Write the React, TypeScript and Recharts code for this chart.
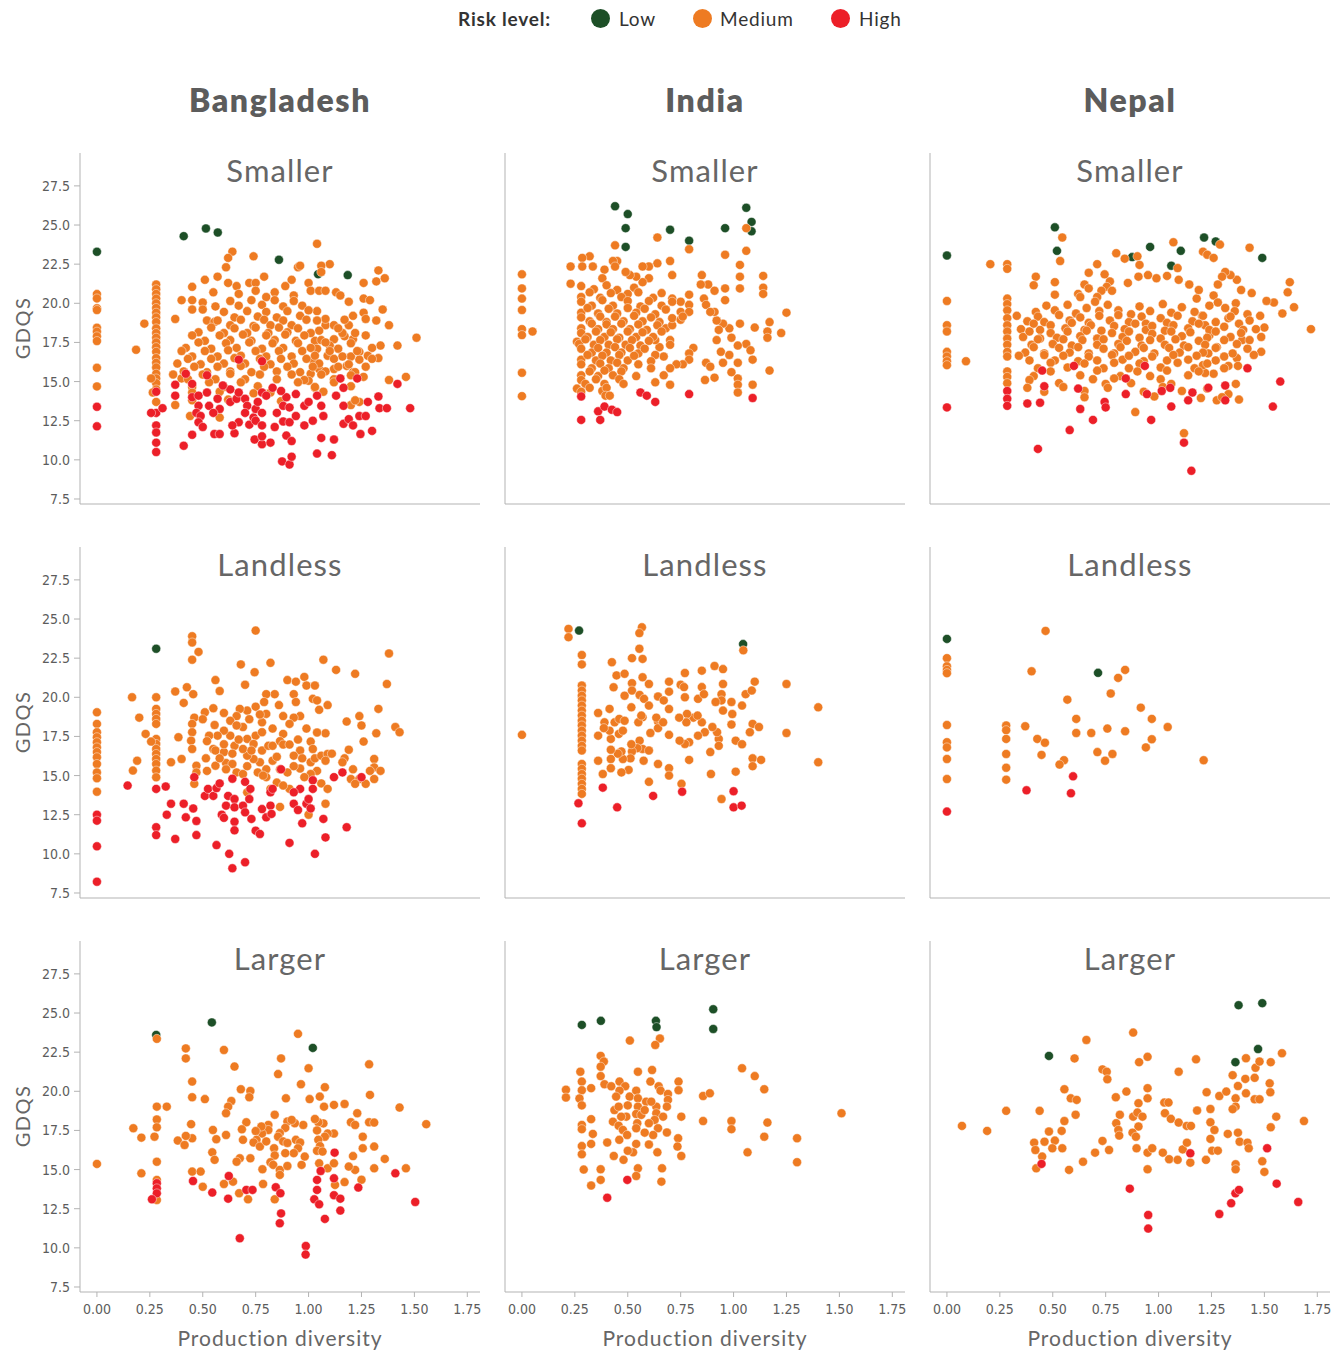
import React from 'react';
import { ScatterChart, Scatter, XAxis, YAxis } from 'recharts';

const countries = ['Bangladesh', 'India', 'Nepal'];
const farmTypes = ['Smaller', 'Landless', 'Larger'];
const riskLevels = ['Low', 'Medium', 'High'];
const xTicks = [0, 0.25, 0.5, 0.75, 1.0, 1.25, 1.5, 1.75];
const yTicks = [7.5, 10, 12.5, 15, 17.5, 20, 22.5, 25, 27.5];

// ---------- Bangladesh / Smaller ----------
const bgdSmallLow = [[0,23.29],[0.41,24.29],[0.515,24.78],[0.571,24.52],[0.86,22.78],[1.045,21.86],[1.185,21.8]];
const bgdSmallMed = [
[0,20.59],[0,20.31],[0,19.68],[0,19.57],[0,18.44],[0,18.19],[0,17.89],[0,17.59],[0,15.88],[0,14.69],
[0.28,21.2],[0.28,20.9],[0.28,20.6],[0.28,20.3],[0.28,20.0],[0.28,19.7],[0.28,19.4],[0.28,19.1],[0.28,18.8],[0.28,18.4],[0.28,18.1],[0.28,17.8],[0.28,17.5],[0.28,17.2],[0.28,16.9],[0.28,16.5],[0.28,16.2],[0.28,15.9],[0.28,15.5],[0.28,15.2],[0.28,14.9],[0.28,14.5],[0.28,13.7],
[0.185,17.03],[0.224,18.7],[0.256,15.2],[0.264,14.3],[0.4,15.2],[0.37,13.5],[0.44,12.8],[0.58,12.7],[1.2,13.5],[1.24,13.7],
[0.64,23.3],[0.62,22.9],[0.61,22.3],[0.74,23.0],[1.04,23.8],[1.1,22.5],[1.06,22.4],[1.06,22.0],[0.95,22.3],[0.96,22.4],[0.92,21.5],[0.79,21.7],[0.57,21.7],[0.51,21.5],[0.55,20.7],[0.45,21.05],[0.4,20.2],[0.45,20.2],[0.45,19.6],[0.37,19.0],[0.5,20.05],[0.5,19.6],[0.52,18.9],[0.555,18.8],[0.62,21.3],[0.66,21.1],[0.72,21.3],[0.75,21.3],[0.75,20.8],[0.67,20.6],[0.8,20.4],[0.84,20.7],[0.89,21.1],[0.93,20.5],[1.0,21.3],[1.01,20.8],[1.05,20.8],[1.08,20.8],[1.13,20.7],[1.15,20.5],[1.19,20.1],[1.26,21.3],[1.32,21.4],[1.33,22.1],[1.36,21.6],[1.26,20.3],[1.29,20.2],[1.35,19.6],[1.38,18.6],[1.42,17.3],[1.51,17.8],[1.46,15.3],[1.38,15.1],[1.33,16.5],[1.34,17.3],[1.32,18.9],[1.26,19.4],[1.27,19.0],[1.21,19.2],[1.19,18.6],[1.17,17.9],[1.16,18.1],[1.12,17.7],[1.21,17.7],[1.24,16.9],[1.24,16.4],[1.2,16.6],[1.18,16.0],[1.26,15.3],[1.2,14.7],[1.21,15.6],[1.15,15.2],[1.12,15.8],[1.09,16.65],[1.1,17.3],[1.08,18.6],[1.08,19.0],[1.04,19.5],[1.04,18.9],[1.05,18.25],[1.03,17.6],[1.04,17.1],[1.02,16.4],[1.05,15.8],[1.01,15.5],[1.0,15.05],[1.03,14.6],
[0.56,19.8],[0.63,20.15],[0.67,19.85],[0.73,20.2],[0.78,19.9],[0.84,20.2],[0.88,19.8],[0.93,20.15],[0.97,19.85],
[0.6,19.45],[0.65,19.1],[0.71,19.5],[0.76,19.15],[0.8,19.45],[0.85,19.1],[0.9,19.5],[0.96,19.2],[1.0,19.55],
[0.57,18.9],[0.63,18.6],[0.68,18.95],[0.74,18.55],[0.79,18.95],[0.82,18.6],[0.88,18.9],[0.92,18.6],[0.99,18.95],[1.12,18.6],[1.17,18.95],
[0.48,18.15],[0.54,18.45],[0.6,18.1],[0.65,18.4],[0.71,18.1],[0.75,18.45],[0.81,18.1],[0.86,18.45],[0.9,18.15],[0.95,18.4],[1.01,18.1],[1.14,18.4],[1.22,18.1],
[0.45,17.95],[0.51,17.6],[0.58,17.95],[0.63,17.65],[0.69,18.0],[0.73,17.6],[0.8,17.95],[0.84,17.65],[0.89,18.0],[0.94,17.6],[0.98,17.95],[1.06,17.65],[1.27,17.95],
[0.42,17.15],[0.48,17.5],[0.54,17.1],[0.61,17.45],[0.66,17.15],[0.72,17.5],[0.78,17.1],[0.83,17.45],[0.88,17.15],[0.95,17.45],[1.01,17.15],[1.08,17.5],[1.14,17.1],[1.2,17.45],[1.3,17.15],
[0.4,16.95],[0.45,16.6],[0.51,16.95],[0.57,16.6],[0.62,17.0],[0.68,16.65],[0.75,16.95],[0.8,16.6],[0.86,16.95],[0.92,16.6],[0.97,16.95],[1.03,16.65],[1.1,16.95],[1.16,16.6],[1.23,16.95],[1.28,16.65],
[0.38,16.15],[0.43,16.45],[0.49,16.1],[0.54,16.45],[0.6,16.15],[0.65,16.5],[0.7,16.15],[0.77,16.45],[0.82,16.1],[0.87,16.45],[0.93,16.15],[0.99,16.45],[1.05,16.15],[1.12,16.45],[1.19,16.1],[1.3,16.45],
[0.41,15.65],[0.46,15.95],[0.52,15.6],[0.57,15.95],[0.63,15.65],[0.68,16.0],[0.73,15.6],[0.79,15.95],[0.85,15.65],[0.9,15.95],[0.96,15.6],[1.02,15.95],[1.08,15.65],[1.14,15.95],[1.22,15.6],[1.27,15.95],
[0.36,15.45],[0.43,15.15],[0.5,15.45],[0.56,15.15],[0.63,15.5],[0.7,15.15],[0.77,15.45],[0.85,15.15],[0.92,15.45],[0.98,15.1],[1.06,15.45],[1.12,15.15],[1.2,15.4],
[0.45,14.65],[0.53,14.95],[0.6,14.65],[0.68,14.95],[0.76,14.7],[0.95,14.95],[1.03,14.65],[1.12,14.95],
[0.45,14.3],[0.58,14.35],[0.74,14.25],[0.82,14.3],[1.07,14.35],
[0.45,13.8],[0.62,13.85],[0.87,13.75],[1.22,13.8]];
const bgdSmallHigh = [
[0,13.39],[0,12.14],[0.28,14.35],[0.28,13.0],[0.28,12.2],[0.28,11.75],[0.28,11.1],[0.28,10.5],[0.256,13.0],[0.31,13.3],
[0.37,14.8],[0.37,14.1],[0.42,15.5],[0.45,14.85],[0.45,14.0],[0.48,14.1],[0.52,15.4],[0.52,14.3],[0.48,13.45],[0.47,13.0],[0.49,12.8],[0.53,13.45],[0.57,13.9],[0.58,13.25],[0.55,13.0],[0.48,12.4],[0.5,12.1],[0.45,11.6],[0.41,10.9],[0.555,11.65],[0.58,11.65],[0.65,11.7],[0.63,13.7],[0.66,13.9],[0.67,14.3],[0.7,13.9],[0.71,13.45],[0.7,13.0],[0.67,12.4],[0.72,12.25],[0.74,12.7],[0.75,13.25],[0.76,13.7],[0.78,14.3],[0.8,14.1],[0.78,13.0],[0.75,12.5],[0.78,12.2],[0.745,11.3],[0.78,11.0],[0.82,11.1],[0.78,11.5],[0.84,12.1],[0.85,13.0],[0.88,13.45],[0.895,14.0],[0.87,14.4],[0.91,13.35],[0.88,12.45],[0.91,12.4],[0.895,11.55],[0.92,11.2],[0.875,9.9],[0.91,9.7],[0.92,10.2],[0.94,12.8],[0.98,13.45],[0.98,12.2],[1.0,13.7],[1.02,12.5],[1.04,14.1],[1.06,13.45],[1.07,12.8],[1.06,11.4],[1.04,10.4],[1.11,10.3],[1.12,11.3],[1.13,14.1],[1.15,15.2],[1.165,14.6],[1.165,13.45],[1.165,12.3],[1.19,12.6],[1.21,12.2],[1.23,15.2],[1.24,12.8],[1.245,11.65],[1.27,12.8],[1.28,13.7],[1.3,11.85],[1.33,14.05],[1.335,13.3],[1.37,13.3],[1.42,14.85],[1.48,13.3],[0.63,14.5],[0.67,16.4],[0.78,16.3],[0.595,14.75],[0.64,12.2],[0.83,14.6],[0.94,14.2]];

// ---------- India / Smaller ----------
const indSmallLow = [[0.44,26.2],[0.5,25.7],[0.49,24.8],[0.49,23.6],[0.7,24.7],[0.79,24.0],[0.96,24.8],[1.06,26.1],[1.085,25.2],[1.085,24.6]];
const indSmallMed = [
[0,21.85],[0,20.95],[0,20.3],[0,19.57],[0,18.35],[0,17.97],[0,15.56],[0,14.07],[0.05,18.2],
[0.44,23.7],[0.64,24.2],[0.79,23.45],[0.96,23.1],[1.06,24.8],[1.06,23.35],[1.03,22.45],[1.03,21.7],[1.03,20.95],[1.14,21.75],[1.14,21.0],[1.14,20.6],[1.25,19.4],[1.17,18.8],[1.1,18.45],[1.16,18.2],[1.16,17.8],[1.225,18.1],[1.17,15.7],[1.09,14.8],[1.09,16.4],[1.06,17.4],[1.08,17.0],[1.02,17.3],[1.03,18.7],[1.02,16.2],[1.02,15.2],[1.02,14.8],[1.02,14.3],[0.99,15.6],[0.95,16.2],[0.94,16.9],[0.98,16.7],[0.99,17.8],[0.98,18.4],[0.95,18.7],[0.92,17.65],[0.93,18.3],[0.92,18.9],[0.91,19.45],[0.96,20.2],[0.96,20.95],[0.91,20.8],[0.88,21.2],[0.85,21.8],[0.845,21.2],[0.86,20.3],[0.87,19.9],[0.89,19.45],[0.87,16.2],[0.89,15.95],[0.865,15.1],[0.91,15.25],[0.81,17.15],[0.79,16.8],[0.79,16.4],[0.76,16.1],[0.73,16.1],[0.7,15.85],[0.7,14.8],[0.67,15.4],[0.63,14.95],[0.67,16.6],[0.7,17.65],[0.7,17.35],[0.65,17.2],[0.63,16.7],[0.61,16.3],[0.61,15.85],[0.63,17.65],[0.68,18.4],[0.71,18.6],[0.71,19.05],[0.75,18.95],[0.75,19.45],[0.75,20.1],[0.79,20.55],[0.79,19.9],[0.79,19.45],[0.76,19.15],[0.71,20.3],[0.71,21.8],[0.7,22.7],[0.64,22.55],[0.6,22.35],[0.57,22.35],[0.6,21.6],[0.57,21.35],[0.54,21.7],[0.53,21.0],[0.5,20.6],[0.51,21.8],[0.49,22.0],[0.45,22.7],[0.43,22.7],[0.44,22.35],[0.39,22.15],[0.38,21.6],[0.335,22.35],[0.32,23.0],[0.285,22.9],[0.285,22.35],[0.23,22.35],[0.23,21.25],[0.26,17.55],
[0.28,21.1],[0.34,20.9],[0.4,21.15],[0.45,20.85],
[0.28,20.4],[0.32,20.7],[0.37,20.35],[0.42,20.65],[0.47,20.4],[0.55,20.7],[0.62,20.35],[0.66,20.65],
[0.28,20.1],[0.33,19.85],[0.38,20.2],[0.43,19.85],[0.5,20.15],[0.56,19.8],[0.6,20.15],[0.66,19.85],[0.71,20.1],
[0.28,19.4],[0.31,19.7],[0.36,19.35],[0.41,19.65],[0.45,19.35],[0.5,19.7],[0.54,19.4],[0.58,19.65],[0.63,19.3],[0.68,19.6],
[0.28,19.1],[0.32,18.85],[0.37,19.15],[0.4,18.8],[0.44,19.15],[0.48,18.85],[0.53,19.2],[0.57,18.85],[0.61,19.1],[0.65,18.8],
[0.28,18.4],[0.33,18.7],[0.36,18.35],[0.4,18.65],[0.43,18.35],[0.47,18.7],[0.51,18.35],[0.55,18.65],[0.59,18.3],[0.64,18.6],
[0.28,18.1],[0.31,17.85],[0.35,18.2],[0.39,17.85],[0.42,18.15],[0.46,17.8],[0.5,18.2],[0.54,17.85],[0.57,18.15],[0.62,17.85],[0.66,18.2],
[0.27,17.4],[0.3,17.7],[0.34,17.35],[0.37,17.65],[0.41,17.35],[0.45,17.7],[0.49,17.35],[0.52,17.65],[0.56,17.3],[0.6,17.6],
[0.28,17.1],[0.33,16.85],[0.36,17.15],[0.4,16.85],[0.44,17.2],[0.47,16.85],[0.51,17.15],[0.55,16.8],[0.58,17.1],
[0.28,16.4],[0.31,16.7],[0.35,16.35],[0.38,16.65],[0.42,16.35],[0.46,16.7],[0.5,16.35],[0.53,16.65],
[0.28,16.1],[0.33,15.85],[0.37,16.15],[0.41,15.85],[0.45,16.2],[0.48,15.85],[0.55,16.1],
[0.28,15.4],[0.32,15.65],[0.36,15.35],[0.39,15.7],[0.43,15.4],[0.47,15.65],[0.54,15.35],
[0.28,15.1],[0.3,14.85],[0.35,15.15],[0.39,14.85],[0.46,15.15],[0.48,14.85],
[0.26,14.55],[0.28,14.35],[0.32,14.6],[0.38,14.4],[0.4,14.6],[0.395,14.1],[0.415,14.1]];
const indSmallHigh = [[0.28,14.05],[0.28,12.55],[0.36,13.1],[0.39,13.4],[0.37,12.55],[0.425,13.2],[0.45,13.05],[0.56,14.3],[0.59,14.1],[0.63,13.7],[0.79,14.2],[1.09,13.95]];

// ---------- Nepal / Smaller ----------
const npSmallLow = [[0,23.05],[0.51,24.85],[0.52,23.35],[0.875,22.95],[0.96,23.6],[1.06,22.4],[1.105,23.35],[1.215,24.2],[1.27,23.95],[1.49,22.9]];
const npSmallMed = [
[0,20.15],[0,18.6],[0,18.2],[0,16.9],[0,16.6],[0,16.3],[0,16.05],[0.09,16.3],[0.205,22.5],
[0.285,22.5],[0.285,22.2],[0.285,20.3],[0.285,19.95],[0.285,19.55],[0.285,19.05],[0.285,18.6],[0.285,18.2],[0.285,17.75],[0.285,17.35],[0.285,16.9],[0.285,16.6],[0.285,15.65],[0.285,15.3],[0.285,14.9],
[0.545,24.2],[0.535,22.7],[0.8,23.2],[0.84,22.85],[0.9,23.0],[0.91,22.45],[0.71,22.5],[0.67,21.95],[1.07,23.9],[1.09,22.25],[1.21,23.3],[1.23,23.1],[1.26,22.9],[1.29,23.75],[1.43,23.55],[1.62,21.35],[1.61,20.7],[1.64,19.75],[1.72,18.35],[1.585,19.35],[1.545,20.05],[1.51,20.15],[1.5,18.45],[1.48,19.2],[1.485,17.85],[1.485,16.9],[1.45,16.7],[1.42,19.3],[1.44,20.65],[1.39,20.85],[1.37,21.5],[1.34,21.8],[1.315,22.0],[1.3,21.7],[1.28,21.2],[1.26,20.5],[1.28,20.05],[1.315,19.7],[1.365,20.0],[1.33,19.05],[1.38,18.7],[1.4,18.3],[1.395,17.65],[1.43,17.65],[1.37,16.5],[1.33,16.0],[1.375,16.0],[1.365,14.85],[1.33,14.2],[1.38,13.85],[1.275,13.8],[1.26,15.5],[1.22,15.55],[1.21,16.05],[1.235,16.8],[1.275,17.2],[1.24,17.95],[1.22,18.6],[1.205,19.2],[1.18,20.3],[1.19,20.85],[1.145,21.2],[1.095,21.5],[1.04,21.75],[0.99,21.6],[0.95,21.8],[0.905,21.7],[0.855,21.3],[0.77,21.4],[0.745,21.85],[0.755,21.05],[0.78,20.8],[0.73,20.8],[0.71,20.4],[0.7,20.1],[0.65,21.2],[0.67,20.95],[0.62,20.6],[0.63,20.4],[0.51,21.35],[0.51,20.55],[0.42,21.7],[0.41,21.15],
[0.42,19.45],[0.47,19.85],[0.51,19.55],[0.57,19.9],[0.61,19.35],[0.66,19.7],[0.72,19.5],[0.76,19.9],[0.81,19.55],[0.87,19.3],[0.91,19.8],[0.96,19.5],[1.02,19.95],[1.06,19.4],[1.11,19.75],[1.17,19.45],[1.24,19.85],[1.36,19.5],
[0.33,19.2],[0.38,18.85],[0.43,19.15],[0.46,18.8],[0.53,19.25],[0.58,18.9],[0.63,19.1],[0.67,18.75],[0.72,19.2],[0.77,18.9],[0.81,19.25],[0.86,18.8],[0.92,19.15],[0.94,18.7],[1.01,19.05],[1.04,18.75],[1.09,19.2],[1.16,18.85],[1.21,19.2],[1.27,18.8],[1.34,19.15],[1.43,18.9],
[0.35,18.35],[0.41,18.7],[0.44,18.3],[0.49,18.6],[0.56,18.4],[0.59,18.75],[0.65,18.3],[0.68,18.6],[0.73,18.25],[0.79,18.55],[0.84,18.35],[0.89,18.7],[0.94,18.3],[0.97,18.55],[1.03,18.25],[1.07,18.6],[1.14,18.4],[1.19,18.7],[1.24,18.3],[1.31,18.5],[1.46,18.35],
[0.36,17.85],[0.39,18.2],[0.44,17.75],[0.49,18.1],[0.52,17.8],[0.57,18.2],[0.63,17.9],[0.66,18.25],[0.71,17.75],[0.78,18.1],[0.83,17.85],[0.86,18.2],[0.91,17.8],[0.97,18.05],[1.01,17.75],[1.06,18.2],[1.11,17.9],[1.15,18.15],[1.23,17.8],[1.27,18.2],[1.34,17.85],[1.39,18.1],
[0.4,17.35],[0.43,17.7],[0.5,17.4],[0.55,17.7],[0.59,17.3],[0.64,17.65],[0.71,17.35],[0.74,17.7],[0.81,17.4],[0.85,17.6],[0.92,17.3],[0.96,17.65],[1.03,17.35],[1.08,17.7],[1.12,17.3],[1.19,17.6],[1.22,17.35],[1.31,17.65],[1.37,17.4],
[0.37,16.85],[0.41,17.2],[0.46,16.8],[0.53,17.15],[0.58,16.85],[0.62,17.2],[0.67,16.8],[0.74,17.1],[0.79,16.8],[0.82,17.2],[0.89,16.9],[0.93,17.15],[0.98,16.8],[1.05,17.15],[1.1,16.85],[1.14,17.2],[1.21,16.85],[1.27,17.15],[1.35,16.8],[1.42,17.1],
[0.34,16.65],[0.39,16.35],[0.46,16.7],[0.51,16.35],[0.55,16.65],[0.62,16.3],[0.67,16.6],[0.71,16.35],[0.78,16.7],[0.83,16.4],[0.86,16.65],[0.93,16.3],[0.97,16.6],[1.04,16.35],[1.07,16.7],[1.14,16.4],[1.18,16.65],[1.27,16.35],[1.31,16.6],
[0.43,15.85],[0.49,16.2],[0.57,15.9],[0.65,16.15],[0.74,15.85],[0.79,16.2],[0.86,15.85],[0.91,16.15],[1.01,15.9],[1.09,16.2],[1.17,15.85],[1.23,16.15],[1.31,15.85],
[0.41,15.35],[0.49,15.65],[0.63,15.4],[0.71,15.7],[0.82,15.35],[0.9,15.65],[0.96,15.35],[1.04,15.7],[1.14,15.4],[1.19,15.65],
[0.39,15.1],[0.53,14.9],[0.69,15.15],[0.75,14.85],[0.79,15.2],[0.87,14.9],[1.01,15.15],[1.06,14.85],
[0.38,14.6],[0.46,14.35],[0.55,14.65],[0.65,14.4],[0.76,14.6],[0.93,14.35],[1.02,14.65],[1.11,14.4],[1.23,14.55],
[0.65,14.0],[0.98,14.05],[1.2,13.95],[1.3,14.0],[0.89,13.05],[1.12,11.7]];
const npSmallHigh = [[0,13.35],[0.285,14.4],[0.285,13.9],[0.285,13.45],[0.38,13.6],[0.44,13.65],[0.45,15.7],[0.46,14.7],[0.58,11.9],[0.6,16.0],[0.62,14.55],[0.63,13.25],[0.69,12.55],[0.745,13.7],[0.75,13.35],[0.43,10.7],[0.845,15.2],[0.845,14.2],[0.935,16.0],[0.945,14.2],[0.965,12.55],[1.015,14.4],[1.055,14.6],[1.06,13.4],[1.12,11.1],[1.155,9.3],[1.14,13.8],[1.16,14.3],[1.235,14.6],[1.315,14.75],[1.315,13.8],[1.42,15.85],[1.575,15.0],[1.54,13.4]];

// ---------- Bangladesh / Landless ----------
const bgdLandLow = [[0.28,23.1]];
const bgdLandMed = [
[0,19.04],[0,18.3],[0,17.77],[0,17.45],[0,17.13],[0,16.8],[0,16.5],[0,16.17],[0,15.74],[0,15.2],[0,14.83],[0,13.97],
[0.28,20.0],[0.28,19.26],[0.28,18.94],[0.28,18.62],[0.28,18.3],[0.28,17.34],[0.28,17.02],[0.28,16.7],[0.28,16.38],[0.28,16.06],[0.28,15.74],[0.28,15.32],[0.28,14.89],
[0.166,20.0],[0.2,18.7],[0.23,17.66],[0.256,17.17],[0.19,15.95],[0.17,15.32],[0.37,20.37],[0.425,20.64],[0.455,20.2],[0.41,19.64],[0.45,23.9],[0.45,23.5],[0.48,22.9],[0.45,22.4],[0.75,24.26],[0.68,22.1],[0.745,21.6],[0.82,22.2],[0.56,21.1],[0.58,20.4],[0.7,20.8],[1.07,22.4],[1.13,21.75],[1.22,21.5],[1.38,22.8],[1.37,20.85],[0.9,21.1],[0.94,21.0],[0.98,21.3],[0.99,20.75],[1.03,20.75],[0.93,20.2],[0.94,19.7],[1.02,19.9],[1.04,19.8],[1.05,19.2],[1.09,19.5],[1.08,17.7],[1.04,17.75],[1.01,17.17],[0.96,18.8],[0.93,18.7],[0.88,18.8],[0.91,18.3],[0.88,17.66],[0.86,19.5],[0.84,20.2],[0.8,20.2],[0.79,19.7],[0.8,18.94],[0.78,18.4],[0.75,19.4],[0.71,19.15],[0.675,19.26],[0.66,18.8],[0.63,18.5],[0.69,18.1],[0.71,17.34],[0.75,17.55],[0.78,17.77],[0.74,17.02],[0.78,16.6],[0.81,16.9],[0.83,16.9],[0.865,17.2],[0.88,16.98],[0.91,16.98],[0.96,16.6],[0.93,16.27],[0.97,16.1],[1.01,15.85],[1.03,16.1],[1.06,16.27],[1.09,16.38],[1.11,16.4],[1.08,15.95],[1.04,15.3],[1.01,15.1],[0.96,15.45],[0.93,15.6],[0.9,15.2],[0.865,15.4],[0.83,15.95],[0.8,15.4],[0.77,15.85],[0.74,16.06],[0.71,16.27],[0.69,16.7],[0.65,16.9],[0.63,17.55],[0.6,17.87],[0.57,17.55],[0.556,18.23],[0.53,17.55],[0.55,16.7],[0.56,16.6],[0.6,16.5],[0.61,15.8],[0.64,15.74],[0.66,15.2],[0.69,15.1],[0.71,15.6],[0.76,15.2],[0.8,14.9],[0.85,14.55],[0.91,14.15],[0.88,14.36],[1.06,14.5],[1.08,13.2],[1.0,12.5],[1.09,14.15],[1.18,18.45],[1.24,18.8],[1.25,18.2],[1.26,17.17],[1.32,17.7],[1.33,19.26],[1.41,18.1],[1.43,17.77],[1.19,16.65],[1.17,16.1],[1.16,15.85],[1.21,15.4],[1.2,14.78],[1.24,14.78],[1.22,14.47],[1.27,14.47],[1.31,14.78],[1.31,16.06],[1.31,15.52],[1.34,15.3],[1.29,15.3],[0.51,19.04],[0.46,18.7],[0.45,18.3],[0.45,17.77],[0.445,17.23],[0.45,16.7],[0.47,15.63],[0.47,15.2],[0.4,16.06],[0.385,17.45],[0.35,15.85],[0.515,16.1],[0.46,14.47],[0.56,15.63],[0.61,15.4],[0.71,13.93],[0.785,15.0],[0.82,14.15],[0.865,13.0],
[0.5,18.6],[0.55,19.3],[0.6,19.0],[0.66,18.2],[0.72,18.6],[0.77,18.9],[0.83,18.0],[0.52,17.2],[0.6,17.0],[0.67,17.3],[0.73,16.6],[0.58,16.1],[0.52,15.3],[0.64,16.4],[0.85,16.2],[0.95,17.3],[0.99,18.0],[1.02,16.7],[0.98,14.9]];
const bgdLandHigh = [
[0,12.5],[0,12.12],[0,10.48],[0,8.22],[0.28,14.15],[0.28,11.7],[0.28,11.2],
[0.145,14.36],[0.325,14.3],[0.35,13.2],[0.33,12.5],[0.37,10.95],[0.41,13.2],[0.42,12.33],[0.455,12.9],[0.47,12.1],[0.47,11.2],[0.46,14.9],[0.51,13.7],[0.525,14.15],[0.55,13.7],[0.565,14.2],[0.58,14.5],[0.59,12.5],[0.6,12.3],[0.565,10.56],[0.625,10.0],[0.64,9.08],[0.7,9.46],[0.61,13.08],[0.62,13.7],[0.64,14.8],[0.65,13.5],[0.65,12.97],[0.65,12.05],[0.65,11.5],[0.7,14.6],[0.69,13.08],[0.7,12.65],[0.73,12.23],[0.72,13.5],[0.725,14.15],[0.75,11.48],[0.77,11.27],[0.78,12.86],[0.8,12.33],[0.82,13.93],[0.82,13.08],[0.825,12.55],[0.83,14.15],[0.87,15.4],[0.91,10.7],[0.93,13.2],[0.95,12.8],[0.96,14.15],[0.97,11.95],[0.99,13.2],[1.0,13.5],[1.02,14.7],[1.02,14.15],[1.01,12.9],[1.03,10.0],[1.07,12.23],[1.08,11.05],[1.12,14.9],[1.16,15.2],[1.18,11.7],[1.25,14.9],[0.93,13.93]];

// ---------- India / Landless ----------
const indLandLow = [[0.27,24.26],[1.045,23.4]];
const indLandMed = [
[0,17.6],[0.22,24.37],[0.22,23.84],
[0.283,22.7],[0.283,22.1],[0.283,20.75],[0.283,20.43],[0.283,20.1],[0.283,19.8],[0.283,19.47],[0.283,19.15],[0.283,18.83],[0.283,18.5],[0.283,18.2],[0.283,17.87],[0.283,17.55],[0.283,17.23],[0.283,16.9],[0.283,16.6],[0.283,15.74],[0.283,15.43],[0.283,15.1],[0.283,14.8],[0.283,14.47],[0.283,14.15],[0.283,13.83],
[0.567,24.47],[0.555,24.1],[0.555,23.1],[0.57,22.45],[0.52,22.5],[0.425,22.24],[0.447,21.4],[0.485,21.5],[0.433,20.64],[0.52,20.9],[0.57,21.28],[0.6,20.85],[0.52,20.43],[0.556,20.15],[0.577,19.9],[0.6,19.47],[0.643,20.05],[0.67,19.8],[0.695,21.0],[0.695,20.36],[0.695,19.25],[0.75,20.8],[0.766,20.65],[0.77,21.55],[0.77,20.0],[0.832,19.9],[0.85,20.65],[0.86,20.2],[0.85,21.7],[0.91,22.0],[0.95,21.8],[0.95,20.85],[0.943,20.2],[0.943,19.8],[0.915,19.7],[0.95,19.15],[0.99,19.7],[0.994,18.93],[0.99,18.26],[1.04,19.47],[1.057,20.2],[1.086,20.43],[1.1,21.0],[1.046,23.0],[1.25,20.85],[1.4,19.36],[1.25,17.72],[1.4,15.85],[1.09,18.3],[1.12,18.1],[1.077,17.77],[1.09,16.1],[1.13,16.0],[1.09,15.6],[1.01,17.23],[1.04,17.0],[1.01,15.25],[0.943,13.5],[0.93,17.34],[0.93,16.9],[0.89,16.5],[0.893,15.1],[0.922,17.77],[0.9,18.1],[0.864,17.77],[0.832,17.55],[0.85,18.4],[0.81,18.7],[0.83,18.83],[0.78,18.94],[0.777,18.4],[0.79,17.13],[0.77,17.02],[0.79,16.0],[0.743,18.7],[0.695,17.6],[0.754,14.47],[0.695,15.47],[0.695,15.0],[0.643,15.74],[0.6,14.6],[0.607,17.72],[0.643,18.45],[0.643,18.03],[0.57,18.73],[0.57,16.7],[0.6,16.6],[0.575,15.95],[0.556,17.23],[0.55,18.4],[0.545,16.75],[0.52,16.54],[0.513,16.1],[0.504,15.36],[0.47,15.2],[0.477,16.06],[0.47,16.54],[0.453,16.4],[0.42,15.47],[0.42,16.06],[0.42,16.65],[0.42,17.34],[0.414,17.87],[0.438,18.4],[0.46,18.62],[0.485,18.5],[0.458,17.66],[0.477,17.87],[0.517,17.0],[0.39,18.4],[0.387,18.03],[0.36,19.0],[0.36,17.55],[0.36,15.95],[0.382,15.1],[0.485,20.1],[0.414,19.26],[0.517,19.36],[0.564,18.83],[0.635,18.7],[0.667,18.4],[0.745,17.23]];
const indLandHigh = [[0.267,13.23],[0.283,11.95],[0.382,14.23],[0.45,12.97],[0.62,13.7],[0.757,13.97],[1.0,14.0],[1.0,12.97],[1.038,13.08]];

// ---------- Nepal / Landless ----------
const npLandLow = [[0,23.73],[0.714,21.56]];
const npLandMed = [[0,22.5],[0,21.98],[0,21.75],[0,21.54],[0,18.23],[0,17.13],[0,16.8],[0,16.06],[0,14.78],[0.28,18.2],[0.28,17.9],[0.28,17.34],[0.28,16.38],[0.28,15.5],[0.28,14.74],[0.466,24.24],[0.4,21.66],[0.37,18.15],[0.427,17.34],[0.463,17.1],[0.447,16.32],[0.553,15.98],[0.532,15.7],[0.569,19.85],[0.611,18.62],[0.611,17.72],[0.682,17.72],[0.758,18.0],[0.711,16.5],[0.747,15.95],[0.782,16.38],[0.774,20.24],[0.809,21.24],[0.842,21.75],[0.842,17.83],[0.916,19.34],[0.968,18.62],[0.968,17.32],[0.94,16.8],[1.043,18.1],[1.213,15.98]];
const npLandHigh = [[0,12.7],[0.376,14.06],[0.596,14.95],[0.586,13.87]];

// ---------- Bangladesh / Larger ----------
const bgdLargeLow = [[0.28,23.6],[0.543,24.4],[1.02,22.77]];
const bgdLargeMed = [[0.283,23.35],[0,15.36],[0.42,22.74],[0.42,22.1],[0.6,22.64],[0.65,21.58],[0.45,20.62],[0.45,19.62],[0.51,19.5],[0.68,20.13],[0.725,20.02],[0.72,19.62],[0.635,19.38],[0.62,19.02],[0.61,18.6],[0.95,23.67],[0.87,22.1],[1.0,21.47],[0.856,21.1],[0.964,20.45],[1.077,20.26],[1.053,19.66],[1.005,19.5],[0.893,19.55],[1.073,19.02],[1.12,19.13],[1.17,19.19],[1.286,21.72],[1.29,19.77],[1.43,18.96],[1.556,17.9],[1.23,18.6],[1.2,18.02],[1.22,17.85],[1.286,18.02],[1.31,18.0],[1.256,17.1],[1.31,16.47],[1.256,16.36],[1.21,15.86],[1.36,15.68],[1.31,15.08],[1.46,15.08],[1.22,14.98],[1.19,15.19],[1.25,14.35],[1.17,14.2],[1.125,14.02],[1.12,17.3],[1.09,17.3],[1.07,17.95],[1.046,18.02],[1.03,18.23],[1.04,17.5],[1.077,17.1],[1.046,16.9],[1.054,16.5],[1.04,16.2],[1.066,16.15],[1.05,15.4],[1.09,15.08],[1.12,15.4],[0.975,17.85],[0.935,17.96],[0.9,18.07],[0.92,18.17],[0.89,17.66],[0.864,17.33],[0.856,17.1],[0.88,16.8],[0.9,16.7],[0.94,16.9],[0.96,16.73],[0.95,16.36],[0.93,16.05],[0.89,16.05],[0.84,18.5],[0.81,17.85],[0.81,17.53],[0.78,17.3],[0.777,17.75],[0.75,17.46],[0.754,16.9],[0.74,16.73],[0.77,16.47],[0.8,16.8],[0.837,16.36],[0.84,15.9],[0.706,18.02],[0.685,17.57],[0.69,16.9],[0.675,15.72],[0.66,15.5],[0.725,15.72],[0.782,15.02],[0.82,15.47],[0.833,15.3],[0.864,14.98],[0.864,14.66],[0.9,15.23],[0.967,15.3],[0.982,15.83],[0.548,17.53],[0.564,16.94],[0.545,16.1],[0.556,15.62],[0.61,17.21],[0.445,17.9],[0.45,17.0],[0.42,17.15],[0.382,16.85],[0.414,16.57],[0.33,19.02],[0.283,19.02],[0.283,18.2],[0.283,17.7],[0.272,17.1],[0.21,17.04],[0.172,17.64],[0.283,15.5],[0.21,14.76],[0.283,14.34],[0.283,13.06],[0.45,14.87],[0.49,14.87],[0.5,13.9],[0.6,14.08],[0.643,14.23],[0.672,13.49],[0.714,13.1],[0.785,14.08],[0.84,13.1]];
const bgdLargeHigh = [[0.283,14.13],[0.283,13.8],[0.283,13.48],[0.26,13.1],[0.454,14.27],[0.545,13.53],[0.62,13.14],[0.623,14.59],[0.706,13.7],[0.735,13.7],[0.675,10.61],[0.845,13.87],[0.867,13.49],[0.87,12.2],[0.864,11.57],[0.987,10.12],[0.986,9.57],[1.057,14.91],[1.04,14.34],[1.04,13.7],[1.027,13.1],[1.05,12.78],[1.077,11.85],[1.12,14.44],[1.123,16.08],[1.12,13.36],[1.15,13.14],[1.15,12.38],[1.235,13.85],[1.41,14.76],[1.504,12.93]];

// ---------- India / Larger ----------
const indLargeLow = [[0.283,24.24],[0.373,24.5],[0.633,24.5],[0.636,24.1],[0.904,25.24],[0.904,23.98]];
const indLargeMed = [[0.51,23.24],[0.652,23.37],[0.63,22.96],[0.372,22.26],[0.387,21.9],[0.372,21.57],[0.276,21.25],[0.372,20.97],[0.283,20.62],[0.39,20.45],[0.208,20.1],[0.208,19.6],[0.283,20.07],[0.327,20.2],[0.272,19.54],[0.283,19.1],[0.548,21.25],[0.615,21.36],[0.607,20.62],[0.422,20.32],[0.461,20.62],[0.488,20.32],[0.461,20.04],[0.445,19.66],[0.509,19.66],[0.54,20.04],[0.548,19.55],[0.587,19.34],[0.646,20.32],[0.655,20.04],[0.69,19.83],[0.69,19.45],[0.74,20.62],[0.74,20.07],[0.685,19.02],[0.635,19.02],[0.635,18.6],[0.611,19.34],[0.548,19.02],[0.54,18.55],[0.564,18.49],[0.667,18.38],[0.627,18.17],[0.6,17.96],[0.643,17.64],[0.62,17.21],[0.58,17.36],[0.545,17.96],[0.54,17.64],[0.493,18.38],[0.469,18.38],[0.437,18.8],[0.43,18.06],[0.457,17.8],[0.477,17.53],[0.497,17.21],[0.457,19.02],[0.685,17.37],[0.753,18.38],[0.738,17.0],[0.735,16.47],[0.753,15.87],[0.64,16.1],[0.662,15.08],[0.659,14.23],[0.54,16.64],[0.525,16.1],[0.48,15.62],[0.434,15.87],[0.403,16.73],[0.548,15.08],[0.54,14.59],[0.372,15.02],[0.372,14.34],[0.327,13.98],[0.292,15.0],[0.327,16.64],[0.283,16.5],[0.283,15.98],[0.335,17.28],[0.283,17.85],[0.283,17.58],[0.327,18.22],[0.856,19.7],[0.888,19.87],[0.856,18.1],[0.99,18.1],[0.99,17.58],[1.04,21.47],[1.1,20.97],[1.145,20.13],[1.16,18.0],[1.145,17.1],[1.066,16.1],[1.3,17.0],[1.3,15.47],[1.51,18.6],[0.5,19.1],[0.58,18.8],[0.6,16.6],[0.5,16.2],[0.46,16.9]];
const indLargeHigh = [[0.498,14.34],[0.403,13.2]];

// ---------- Nepal / Larger ----------
const npLargeLow = [[1.378,25.5],[1.49,25.63],[1.47,22.7],[1.363,21.86],[0.482,22.26]];
const npLargeMed = [[0.071,17.79],[0.19,17.47],[0.28,18.75],[0.438,18.75],[0.555,20.13],[0.585,19.55],[0.613,19.45],[0.608,18.5],[0.555,18.1],[0.542,17.47],[0.482,17.43],[0.461,16.78],[0.51,16.85],[0.412,16.72],[0.418,16.25],[0.498,16.36],[0.545,16.36],[0.45,15.83],[0.422,15.08],[0.577,14.98],[0.643,15.5],[0.7,16.08],[0.735,16.83],[0.766,16.25],[0.659,23.28],[0.603,22.1],[0.735,21.4],[0.755,21.25],[0.758,20.77],[0.88,23.75],[0.948,22.2],[0.908,21.86],[0.848,19.98],[0.798,19.62],[0.948,20.2],[0.948,19.55],[0.905,19.24],[0.817,18.5],[0.8,17.96],[0.81,17.53],[0.814,17.17],[0.88,18.38],[0.9,18.64],[0.924,18.38],[0.905,17.75],[0.877,17.36],[0.893,17.1],[0.896,16.36],[0.948,16.08],[0.97,16.36],[1.02,16.08],[0.948,15.02],[1.05,15.66],[1.09,15.62],[1.114,16.29],[1.134,16.72],[1.15,15.44],[1.177,22.04],[1.095,21.25],[1.027,19.28],[1.047,19.28],[1.03,18.6],[1.058,18.24],[1.095,18.0],[1.133,17.79],[1.153,17.79],[1.182,18.77],[1.227,19.94],[1.245,18.87],[1.245,18.02],[1.264,17.53],[1.245,16.96],[1.253,16.21],[1.28,16.21],[1.224,15.62],[1.287,19.7],[1.32,19.98],[1.35,21.03],[1.41,20.79],[1.454,20.86],[1.375,20.34],[1.364,19.55],[1.364,19.02],[1.35,18.86],[1.413,19.87],[1.454,19.49],[1.477,19.49],[1.528,19.94],[1.525,20.51],[1.458,21.5],[1.477,21.9],[1.53,21.86],[1.583,22.43],[1.413,22.11],[1.556,18.38],[1.53,17.7],[1.687,18.1],[1.327,17.28],[1.375,17.36],[1.383,16.78],[1.42,16.72],[1.426,16.36],[1.364,15.34],[1.364,15.02],[1.49,15.53],[1.5,14.85]];
const npLargeHigh = [[0.447,15.36],[0.864,13.78],[0.951,12.1],[0.951,11.23],[1.15,16.04],[1.287,12.16],[1.343,12.85],[1.363,13.48],[1.38,13.7],[1.513,16.36],[1.558,14.1],[1.66,12.93]];

const panelData = [
  [[bgdSmallLow, bgdSmallMed, bgdSmallHigh], [indSmallLow, indSmallMed, indSmallHigh], [npSmallLow, npSmallMed, npSmallHigh]],
  [[bgdLandLow, bgdLandMed, bgdLandHigh], [indLandLow, indLandMed, indLandHigh], [npLandLow, npLandMed, npLandHigh]],
  [[bgdLargeLow, bgdLargeMed, bgdLargeHigh], [indLargeLow, indLargeMed, indLargeHigh], [npLargeLow, npLargeMed, npLargeHigh]],
];

const COLORS: Record<string, string> = { Low: '#1d4f27', Medium: '#ee7b22', High: '#ec1f28' };
const TEXT = '#5c5c5c';
const AXIS = '#b3b3b3';
const TICK_FONT = '"Liberation Sans Narrow", "DejaVu Sans Condensed", "Roboto", sans-serif';
const UI_FONT = 'Lato, "Open Sans", sans-serif';

const toPts = (a: number[][]) => a.map(([x, y]) => ({ x, y }));

const dot = (color: string) => (props: any) => (
  <circle cx={props.cx} cy={props.cy} r={4.5} fill={color} stroke="#ffffff" strokeWidth={0.8} strokeOpacity={0.55} />
);

function Panel({ row, col }: { row: number; col: number }) {
  const sets = panelData[row][col];
  const showX = row === 2;
  const showY = col === 0;
  return (
    <div style={{ position: 'absolute', left: 425 * col, top: 143 + 394 * row }}>
      <ScatterChart width={490} height={391} margin={{ top: 10, right: 10, bottom: 0, left: 20 }}>
        <XAxis
          type="number"
          dataKey="x"
          domain={[-0.08, 1.81]}
          ticks={xTicks}
          allowDataOverflow
          height={30}
          stroke={AXIS}
          tickSize={5}
          tickMargin={7}
          tickFormatter={(v: number) => v.toFixed(2)}
          tick={showX ? { fill: TEXT, fontSize: 14, fontFamily: TICK_FONT } : false}
        />
        <YAxis
          type="number"
          dataKey="y"
          domain={[7.18, 29.6]}
          ticks={yTicks}
          allowDataOverflow
          width={60}
          stroke={AXIS}
          tickSize={6}
          tickMargin={4}
          tickFormatter={(v: number) => v.toFixed(1)}
          tick={showY ? { fill: TEXT, fontSize: 14, fontFamily: TICK_FONT } : false}
        />
        {riskLevels.map((lvl, i) => (
          <Scatter
            key={lvl}
            name={lvl}
            data={toPts(sets[i])}
            fill={COLORS[lvl]}
            shape={dot(COLORS[lvl])}
            isAnimationActive={false}
          />
        ))}
      </ScatterChart>
    </div>
  );
}

const legendCircleX = [600, 702, 840];
const legendLabelX = [619, 720, 859];

export default function App() {
  return (
    <div style={{ position: 'absolute', left: 0, top: 0, width: 1343, height: 1352, background: '#fff', fontFamily: UI_FONT, color: TEXT }}>
      {/* Legend */}
      <div style={{ position: 'absolute', top: 7, left: 458, fontSize: 19, fontWeight: 700, color: '#333', letterSpacing: 0.8, lineHeight: '23px' }}>
        Risk level:
      </div>
      {riskLevels.map((lvl, i) => (
        <React.Fragment key={lvl}>
          <div style={{ position: 'absolute', left: legendCircleX[i] - 9.5, top: 8.5, width: 19, height: 19, borderRadius: '50%', background: COLORS[lvl] }} />
          <div style={{ position: 'absolute', left: legendLabelX[i], top: 7, fontSize: 19, color: '#333', letterSpacing: 0.8, lineHeight: '23px' }}>{lvl}</div>
        </React.Fragment>
      ))}
      {/* Country headers */}
      {countries.map((c, i) => (
        <div key={c} style={{ position: 'absolute', left: 80 + 425 * i, width: 400, top: 80, textAlign: 'center', fontSize: 32, fontWeight: 800, letterSpacing: 1.6, color: TEXT }}>
          {c}
        </div>
      ))}
      {/* Panel titles */}
      {farmTypes.map((f, r) =>
        countries.map((c, i) => (
          <div key={f + c} style={{ position: 'absolute', left: 80 + 425 * i, width: 400, top: 151 + 394 * r, textAlign: 'center', fontSize: 31, fontWeight: 400, letterSpacing: 1.1, color: '#666' }}>
            {f}
          </div>
        ))
      )}
      {/* Y labels */}
      {farmTypes.map((f, r) => (
        <div key={'gy' + f} style={{ position: 'absolute', left: 22, top: 328 + 394 * r, transform: 'translate(-50%, -50%) rotate(-90deg)', fontSize: 20, letterSpacing: 1.5, color: '#666', whiteSpace: 'nowrap' }}>
          GDQS
        </div>
      ))}
      {/* X labels */}
      {countries.map((c, i) => (
        <div key={'px' + c} style={{ position: 'absolute', left: 80 + 425 * i, width: 400, top: 1325, textAlign: 'center', fontSize: 21, letterSpacing: 1, color: '#666' }}>
          Production diversity
        </div>
      ))}
      {farmTypes.map((f, r) => countries.map((c, i) => <Panel key={'p' + r + i} row={r} col={i} />))}
    </div>
  );
}
